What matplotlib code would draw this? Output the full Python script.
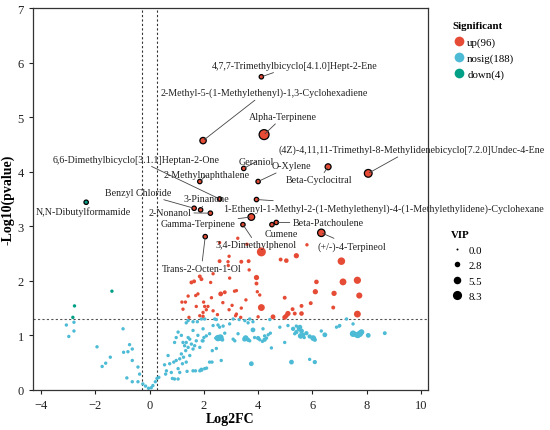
import matplotlib
matplotlib.use('Agg')
import matplotlib.pyplot as plt
from matplotlib.lines import Line2D
import numpy as np

plt.rcParams['font.family'] = ['Liberation Serif', 'DejaVu Serif']

# colours for the three groups
col_up = '#E64B35'
col_ns = '#4DBBD5'
col_down = '#00A087'

# up-regulated, unlabelled: log2FC, -log10(p), VIP
up_x = [3.25, 3.59, 5.80, 2.58, 4.12, 2.58, 2.89, 2.93, 3.38, 3.65, 4.83, 5.04, 5.41, 7.07, 3.67,
        2.90, 2.34, 1.85, 1.91, 1.54, 1.64, 2.25, 2.95, 3.94, 3.94, 6.15, 7.13, 7.66, 3.20, 2.62,
        1.78, 3.97, 1.70, 2.28, 1.42, 2.77, 3.13, 4.06, 6.11, 6.80, 7.73, 4.98, 1.19, 1.32, 1.99,
        5.94, 1.72, 2.15, 2.03, 3.04, 4.12, 5.60, 6.77, 1.23, 2.09, 2.34, 2.93, 3.38, 5.27, 1.97,
        3.20, 5.10, 5.35, 5.60, 7.66, 1.85, 1.97, 3.17, 3.36, 4.00, 4.55, 4.98, 5.04, 2.70, 3.55,
        1.45, 2.50]
up_y = [2.78, 2.67, 2.66, 2.70, 2.53, 2.36, 2.35, 2.45, 2.35, 2.36, 2.39, 2.37, 2.46, 2.36, 2.20,
        2.28, 2.13, 2.08, 2.03, 1.97, 1.99, 1.97, 2.05, 2.06, 1.95, 1.98, 1.98, 2.01, 1.82, 1.76,
        1.76, 1.80, 1.73, 1.69, 1.72, 1.79, 1.81, 1.74, 1.80, 1.77, 1.73, 1.69, 1.61, 1.61, 1.61,
        1.59, 1.53, 1.53, 1.53, 1.55, 1.51, 1.54, 1.51, 1.48, 1.47, 1.45, 1.47, 1.50, 1.48, 1.42,
        1.39, 1.40, 1.40, 1.40, 1.39, 1.36, 1.35, 1.36, 1.33, 1.34, 1.34, 1.33, 1.36, 1.60, 1.65,
        1.33, 1.38]
up_vip = [0.8, 0.8, 0.8, 0.8, 8.0, 1.2, 0.8, 0.8, 1.2, 1.2, 1.2, 1.8, 2.5, 5.5, 0.8,
          0.8, 0.8, 1.2, 1.2, 1.2, 1.2, 0.8, 0.8, 2.5, 1.2, 1.8, 4.5, 5.0, 0.8, 2.0,
          0.8, 0.8, 0.8, 0.8, 0.8, 1.2, 0.8, 0.8, 2.5, 2.5, 3.5, 1.2, 0.8, 0.8, 0.8,
          1.2, 0.8, 0.8, 0.8, 0.8, 4.5, 1.2, 1.2, 0.8, 0.8, 0.8, 0.8, 0.8, 1.2, 0.8,
          0.8, 2.5, 1.2, 1.8, 4.5, 0.8, 0.8, 0.8, 0.8, 0.8, 2.0, 2.0, 1.8, 0.8, 0.8,
          0.8, 0.8]

# not significant
ns_x = [-3.07, -2.79, -2.79, -2.98, -0.98, -1.94, -1.45, -1.62, -1.75, -0.96, -0.80, -0.74, -0.64,
        -0.64, -0.43, -0.84, -0.64, -0.43, -0.37, -0.25, -0.15, -0.04, 0.06, 0.12, 0.21, 0.27, 0.34,
        0.55, 0.62, 0.59, 0.68, 0.74, 0.80, 0.89, 0.98, 1.05, 1.11, 1.17, 1.21, 1.25, 1.33, 1.35,
        1.42, 1.48, 1.54, 1.60, 1.66, 1.72, 1.78, 1.85, 1.94, 1.97, 2.00, 2.03, 1.91, 1.76, 1.60,
        1.42, 1.35, 1.05, 0.98, 0.92, 1.17, 1.23, 1.29, 1.35, 1.42, 1.48, 1.60, 1.69, 1.85, 1.91,
        1.38, 1.11, 0.92, 1.05, 0.84,
        2.40, 2.46, 3.08, 3.30, 3.51, 3.69, 3.81, 4.43, 7.26, 2.34, 2.52, 2.71, 2.95, 3.63, 5.10,
        5.41, 5.54, 6.89, 7.01, 7.50, 2.58, 2.21, 2.09, 2.44, 2.52, 2.61, 2.68, 2.77, 3.14, 3.26,
        3.08, 3.54, 3.63, 3.69, 3.81, 3.87, 4.00, 4.06, 4.16, 4.18, 4.24, 4.31, 4.37, 4.45, 4.80,
        5.29, 5.35, 5.41, 5.51, 5.57, 5.66, 5.78, 5.90, 6.03, 6.09, 6.46, 7.50, 7.63, 7.75, 7.81,
        8.06, 8.67, 1.97, 2.31, 2.46, 4.49, 4.98, 2.21, 2.64, 3.75, 5.23, 5.90, 6.09, 2.03, 6.99,
        6.33, 7.68, 5.60, 5.70, 4.24, 3.50, 1.60, 2.10, 2.30]
ns_y = [1.19, 1.24, 1.08, 0.98, 1.12, 0.79, 0.60, 0.49, 0.43, 0.69, 0.70, 0.83, 0.75,
        0.54, 0.42, 0.22, 0.15, 0.15, 0.29, 0.11, 0.07, 0.03, 0.04, 0.08, 0.15, 0.21, 0.23,
        0.46, 0.35, 0.29, 0.63, 0.48, 0.32, 0.51, 0.54, 0.39, 0.57, 0.66, 0.48, 0.60, 0.72, 0.51,
        0.78, 0.63, 0.84, 0.75, 0.81, 0.90, 1.00, 0.78, 0.90, 1.12, 0.96, 1.30, 1.30, 1.25, 1.25,
        1.27, 1.23, 1.06, 0.96, 0.87, 1.00, 0.87, 0.81, 0.87, 0.96, 0.93, 1.09, 0.35, 0.35, 0.37,
        0.34, 0.32, 0.20, 0.20, 0.21,
        1.30, 1.29, 1.30, 1.29, 1.27, 1.30, 1.25, 1.29, 1.30, 1.18, 1.19, 1.17, 1.21, 1.23, 1.18,
        1.17, 1.15, 1.15, 1.18, 1.21, 1.15, 1.03, 0.99, 0.95, 0.95, 0.96, 0.92, 1.04, 0.90, 1.03,
        0.93, 0.95, 0.92, 0.90, 1.10, 0.96, 0.95, 0.92, 0.89, 1.12, 0.99, 0.95, 1.01, 1.04, 1.15,
        1.12, 1.03, 1.06, 1.12, 0.99, 1.01, 1.04, 0.98, 0.95, 0.92, 1.01, 1.03, 1.01, 1.03, 1.06,
        1.00, 1.04, 0.90, 0.72, 0.76, 0.77, 0.87, 0.51, 0.54, 0.48, 0.51, 0.56, 0.51, 0.39, 1.17,
        1.08, 1.00, 1.08, 0.96, 0.92, 0.93, 0.35, 0.40, 0.51]
ns_vip = [0.8] * 70 + [0.8, 1.5, 0.8, 0.8, 0.8, 0.8, 0.8] + \
         [0.8, 0.8, 0.8, 0.8, 0.8, 0.8, 0.8, 0.8, 0.8, 0.8, 0.8, 0.8, 0.8, 0.8, 0.8,
          0.8, 2.0, 0.8, 0.8, 0.8, 0.8, 0.8, 0.8, 0.8, 4.0, 4.0, 1.2, 0.8, 0.8, 0.8,
          0.8, 3.0, 1.5, 0.8, 2.0, 0.8, 1.5, 0.8, 0.8, 0.8, 0.8, 0.8, 0.8, 0.8, 0.8,
          1.5, 0.8, 1.5, 2.0, 3.0, 1.5, 1.5, 1.5, 3.0, 1.5, 2.0, 4.0, 3.0, 4.0, 3.0,
          2.0, 1.2, 0.8, 0.8, 0.8, 0.8, 0.8, 0.8, 0.8, 2.0, 2.0, 0.8, 1.5, 0.8, 0.8,
          0.8, 3.0, 2.0, 0.8, 1.5, 2.0, 0.8, 0.8, 0.8]

# down-regulated, unlabelled
down_x = [-1.39, -2.77, -2.83]
down_y = [1.81, 1.54, 1.33]
down_vip = [0.8, 0.8, 0.8]

# labelled compounds: point, VIP, group and label position
lab_names = ['4,7,7-Trimethylbicyclo[4.1.0]Hept-2-Ene',
             '2-Methyl-5-(1-Methylethenyl)-1,3-Cyclohexadiene',
             'Alpha-Terpinene',
             '(4Z)-4,11,11-Trimethyl-8-Methylidenebicyclo[7.2.0]Undec-4-Ene',
             'Geraniol', 'O-Xylene', 'Beta-Cyclocitral', '2-Methylnaphthalene',
             '6,6-Dimethylbicyclo[3.1.1]Heptan-2-One', 'Benzyl Chloride', '3-Pinanone',
             '2-Nonanol', 'N,N-Dibutylformamide',
             '1-Ethenyl-1-Methyl-2-(1-Methylethenyl)-4-(1-Methylethylidene)-Cyclohexane',
             'Gamma-Terpinene', 'Beta-Patchoulene', 'Cumene', '3,4-Dimethylphenol',
             '(+/-)-4-Terpineol', 'Trans-2-Octen-1-Ol']
lab_x = [4.12, 1.97, 4.22, 8.06, 3.47, 4.00, 6.58, 1.85, 2.58, 1.64, 1.88, 2.24, -2.34,
         3.94, 3.75, 4.67, 4.51, 3.44, 6.33, 2.05]
lab_y = [5.74, 4.57, 4.68, 3.97, 4.06, 3.82, 4.09, 3.82, 3.50, 3.33, 3.30, 3.24, 3.44,
         3.49, 3.17, 3.07, 3.03, 3.03, 2.88, 2.81]
lab_vip = [0.8, 3.0, 9.0, 5.0, 0.8, 0.8, 2.5, 0.8, 0.8, 0.8, 0.8, 0.8, 0.8,
           0.8, 3.5, 0.8, 0.8, 0.8, 4.5, 0.8]
lab_group = ['up'] * 12 + ['down'] + ['up'] * 7
lab_tx = [5.35, 4.24, 4.92, 9.65, 3.94, 5.23, 6.25, 2.09, -0.49, -0.43, 2.09, 0.74, -2.46,
          8.64, 1.78, 6.58, 4.86, 3.94, 7.44, 1.91]
lab_ty = [5.95, 5.45, 5.01, 4.41, 4.19, 4.11, 3.85, 3.94, 4.23, 3.62, 3.50, 3.25, 3.27,
          3.33, 3.05, 3.07, 2.87, 2.66, 2.64, 2.23]

vip_ticks = [0.0, 2.8, 5.5, 8.3]


def vip_size(v):
    # marker area grows with VIP
    return 2 + 5 * np.asarray(v)


fig = plt.figure(figsize=(5.5, 4.31), dpi=100)
ax = fig.add_axes([0.06, 0.093, 0.718, 0.886])

ax.scatter(ns_x, ns_y, s=vip_size(ns_vip), color=col_ns, linewidths=0, zorder=2)
ax.scatter(up_x, up_y, s=vip_size(up_vip), color=col_up, linewidths=0, zorder=3)
ax.scatter(down_x, down_y, s=vip_size(down_vip), color=col_down, linewidths=0, zorder=3)

# threshold lines
ax.axhline(-np.log10(0.05), color='#555555', lw=0.8, ls=(0, (2, 2)), zorder=1)
for v in (-0.263, 0.263):
    ax.axvline(v, color='#333333', lw=0.8, ls=(0, (2, 2)), zorder=1)

# labelled points with outline
lab_cols = [col_up if g == 'up' else col_down for g in lab_group]
ax.scatter(lab_x, lab_y, s=vip_size(lab_vip) + 4, color=lab_cols,
           edgecolors='black', linewidths=0.9, zorder=5)

for name, px, py, tx, ty in zip(lab_names, lab_x, lab_y, lab_tx, lab_ty):
    ax.annotate(name, xy=(px, py), xytext=(tx, ty), ha='center', va='center',
                fontsize=7.2, color='#222222', annotation_clip=False, zorder=6,
                arrowprops=dict(arrowstyle='-', color='#444444', lw=0.6,
                                shrinkA=0, shrinkB=1))

ax.set_xlim(-4.3, 10.26)
ax.set_ylim(0, 7)
ax.set_xticks(range(-4, 11, 2))
ax.set_yticks(range(0, 8))
ax.tick_params(direction='out', length=3, width=0.8, labelsize=9, colors='#222222')
for sp in ax.spines.values():
    sp.set_color('#333333')
    sp.set_linewidth(0.9)
ax.set_xlabel('Log2FC', fontsize=10, fontweight='bold', labelpad=1)
ax.set_ylabel('-Log10(pvalue)', fontsize=10, fontweight='bold', labelpad=2)

# legends
sig_handles = [Line2D([0], [0], marker='o', ls='none', markersize=7, markerfacecolor=c,
                      markeredgewidth=0) for c in (col_up, col_ns, col_down)]
leg1 = ax.legend(sig_handles, ['up(96)', 'nosig(188)', 'down(4)'], title='Significant',
                 loc='upper left', bbox_to_anchor=(0.815, 0.958), bbox_transform=fig.transFigure,
                 frameon=False, fontsize=7.8, handletextpad=0.15, labelspacing=0.6,
                 handlelength=1.2, borderaxespad=0, alignment='left',
                 title_fontproperties={'weight': 'bold', 'size': 7.8})
ax.add_artist(leg1)

vip_handles = [Line2D([0], [0], marker='o', ls='none', color='black',
                      markersize=np.sqrt(vip_size(v)), markeredgewidth=0) for v in vip_ticks]
ax.legend(vip_handles, ['%.1f' % v for v in vip_ticks], title='VIP',
          loc='upper left', bbox_to_anchor=(0.812, 0.474), bbox_transform=fig.transFigure,
          frameon=False, fontsize=7.8, handletextpad=0.4, labelspacing=0.55,
          handlelength=1.2, borderaxespad=0, alignment='left',
          title_fontproperties={'weight': 'bold', 'size': 7.8})

fig.savefig('out.png', dpi=100)
